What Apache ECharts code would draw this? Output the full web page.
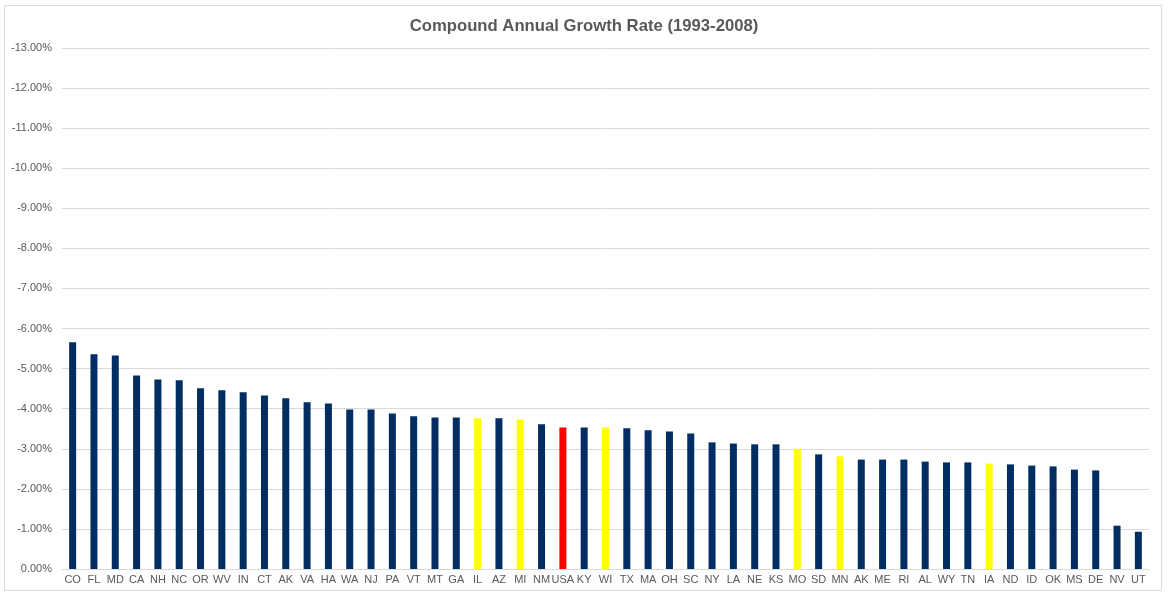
<!DOCTYPE html>
<html>
<head>
<meta charset="utf-8">
<script src="https://cdn.jsdelivr.net/npm/echarts@6/dist/echarts.min.js"></script>
<style>html,body{margin:0;padding:0;background:#fff}#c{width:1168px;height:595px}</style>
</head>
<body>
<div id="c"></div>
<script>
const categories = ['CO','FL','MD','CA','NH','NC','OR','WV','IN','CT','AK','VA','HA','WA','NJ','PA','VT','MT','GA','IL','AZ','MI','NM','USA','KY','WI','TX','MA','OH','SC','NY','LA','NE','KS','MO','SD','MN','AK','ME','RI','AL','WY','TN','IA','ND','ID','OK','MS','DE','NV','UT'];
const growthRate = [-5.66,-5.36,-5.33,-4.83,-4.73,-4.71,-4.51,-4.46,-4.41,-4.33,-4.26,-4.16,-4.13,-3.98,-3.98,-3.88,-3.81,-3.78,-3.78,-3.76,-3.76,-3.73,-3.61,-3.53,-3.53,-3.53,-3.51,-3.46,-3.43,-3.38,-3.16,-3.13,-3.11,-3.11,-3.00,-2.86,-2.81,-2.73,-2.73,-2.73,-2.68,-2.66,-2.66,-2.63,-2.61,-2.58,-2.56,-2.48,-2.46,-1.08,-0.93];
const yellowStates = ['IL','MI','WI','MO','MN','IA'];
const redStates = ['USA'];
const yTicks = {min: -13, max: 0, interval: 1};

const NAVY = '#002D62', YELLOW = '#FFFF00', RED = '#FF0000';
const seriesData = growthRate.map((v, i) => {
  const c = categories[i];
  const color = redStates.includes(c) ? RED : (yellowStates.includes(c) ? YELLOW : NAVY);
  return {value: v, itemStyle: {color}};
});

const chart = echarts.init(document.getElementById('c'), null, {renderer: 'canvas'});
chart.setOption({
  animation: false,
  backgroundColor: '#fff',
  title: {
    text: 'Compound Annual Growth Rate (1993-2008)',
    left: 'center', top: 13,
    textStyle: {fontFamily: 'Liberation Sans, Arial, sans-serif', fontSize: 16.7, fontWeight: 'bold', color: '#595959'}
  },
  graphic: [{
    type: 'rect', shape: {x: 4.5, y: 5.5, width: 1157, height: 585},
    style: {fill: 'none', stroke: '#d9d9d9', lineWidth: 1}, silent: true, z: -1
  }],
  grid: {left: 62, right: 19, top: 48, bottom: 26, containLabel: false},
  xAxis: {
    type: 'category',
    data: categories,
    axisTick: {show: false},
    axisLine: {lineStyle: {color: '#d9d9d9'}},
    axisLabel: {interval: 0, color: '#595959', fontSize: 11, margin: 5, fontFamily: 'Liberation Sans, Arial, sans-serif'}
  },
  yAxis: {
    type: 'value',
    inverse: true,
    min: yTicks.min, max: yTicks.max, interval: yTicks.interval,
    axisLine: {show: false},
    axisTick: {show: false},
    splitLine: {lineStyle: {color: '#d9d9d9'}},
    axisLabel: {color: '#595959', fontSize: 11, margin: 10, fontFamily: 'Liberation Sans, Arial, sans-serif',
      formatter: v => v.toFixed(2) + '%'}
  },
  series: [{
    type: 'bar',
    data: seriesData,
    barWidth: 7
  }]
});
</script>
</body>
</html>
